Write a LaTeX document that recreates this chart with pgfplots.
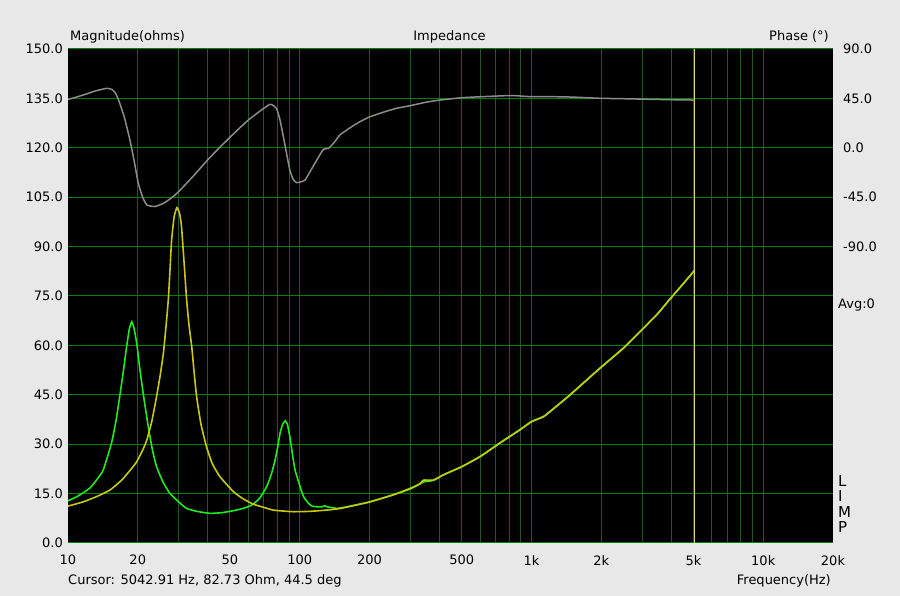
\documentclass[border=0pt]{standalone}
\usepackage{pgfplots}
\pgfplotsset{compat=1.18}
\usepackage{fontspec}
\setmainfont{DejaVu Sans}
\definecolor{bgcol}{RGB}{232,232,232}
\definecolor{hgrid}{RGB}{0,128,0}
\definecolor{vgrid}{RGB}{38,84,38}
\definecolor{ycurve}{RGB}{200,200,20}
\definecolor{gcurve}{RGB}{30,235,30}
\definecolor{phcurve}{RGB}{140,140,140}
\definecolor{cursorcol}{RGB}{215,215,120}
\newcommand{\lab}{\fontsize{13}{15}\selectfont}
\begin{document}
\begin{tikzpicture}
\useasboundingbox (0pt,0pt) rectangle (900pt,596pt);
\fill[bgcol] (0pt,0pt) rectangle (900pt,596pt);
\begin{axis}[
  at={(68pt,53pt)}, anchor=south west,
  width=765pt, height=494pt, scale only axis,
  xmode=log, xmin=10, xmax=20000, ymin=0, ymax=150,
  axis background/.style={fill=black},
  axis line style={draw=none},
  major tick length=0pt, minor tick length=0pt,
  tick style={draw=none},
  xtick={10,20,50,100,200,500,1000,2000,5000,10000,20000},
  xticklabels={10,20,50,100,200,500,1k,2k,5k,10k,20k},
  minor xtick={20,30,40,50,60,70,80,90,100,200,300,400,500,600,700,800,900,1000,2000,3000,4000,5000,6000,7000,8000,9000,10000},
  xmajorgrids=false, xminorgrids=true,
  minor x grid style={vgrid, line width=1pt},
  ytick={0,15,30,45,60,75,90,105,120,135,150},
  yticklabels={0.0,15.0,30.0,45.0,60.0,75.0,90.0,105.0,120.0,135.0,150.0},
  ymajorgrids=true,
  major y grid style={hgrid, line width=1pt},
  every tick label/.append style={font=\lab},
  xticklabel style={inner sep=0pt, yshift=-12pt},
  yticklabel style={inner sep=0pt, xshift=-5pt},
  clip=true,
]
\addplot[gcurve, line width=1.6pt, smooth, tension=0.3] coordinates {
(10,12.8) (11,14.2) (12.4,16.6) (13.4,19.5) (14.2,22.2) (15.4,30.3) (16.1,37) (16.8,45.5) (17.4,53) (17.9,59.6) (18.4,65) (18.85,67.2) (19.3,65) (19.8,60.6) (20.4,53) (21.1,45.5) (22.2,35.3) (23.1,28.5) (24.1,23.2) (25.7,18.5) (27.5,15.1) (30,12.5) (32.5,10.5) (36,9.6) (41,9.0) (46,9.2) (51.7,9.8) (57,10.5) (62,11.5) (67,13.5) (72,17.1) (75.5,21) (78.3,25.2) (80.5,29.5) (82.2,33.3) (84.3,36) (86.6,37.1) (88.5,36) (90.6,32.3) (93,27) (95.4,22.2) (100.3,17.1) (104,14) (108.9,12.1) (113,11.2) (118.5,11.0) (125,11.0) (128,11.3) (131,11.0) (144.7,10.5) (150,10.6) (182,11.8) (201,12.5) (250,14.5) (300,16.4) (342,18.5) (377,19.0) (420,20.8) (501,23.2) (600,26.3) (730,30.4) (890,34.4) (1000,36.9) (1125,38.4) (1180,39.5) (1465,45.0) (1972,53.1) (2490,59.2) (2935,64.2) (3500,69.6) (3940,73.9) (4500,78.6) (5042.91,82.7)
};
\addplot[ycurve, line width=1.6pt, smooth, tension=0.3] coordinates {
(10,11.2) (11.64,12.5) (13.3,14.1) (15.18,16.1) (17.05,19.1) (18.85,22.7) (19.8,24.7) (21,28.2) (21.9,31.3) (23,37) (24.1,44.4) (25,51) (25.8,57.6) (26.5,66) (27.1,74) (27.5,82) (28.0,92) (28.7,99) (29.5,101.8) (30.3,100) (30.9,96) (32.0,80.8) (32.5,73.8) (33.3,66) (34.2,59.6) (35.0,52) (35.9,44.4) (37.5,36) (39.6,29.2) (42,24) (45.3,20.1) (51.7,15.6) (57,13.4) (63,11.8) (70,10.8) (76.8,10.0) (85,9.7) (93.8,9.5) (110,9.6) (130.8,10.0) (150,10.5) (182,11.8) (201,12.5) (250,14.5) (300,16.6) (330,18.0) (342,19.1) (377,19.1) (420,20.8) (501,23.2) (600,26.2) (730,30.3) (890,34.3) (1000,36.8) (1125,38.3) (1180,39.4) (1465,44.9) (1972,53.0) (2490,59.1) (2935,64.1) (3500,69.6) (3940,73.9) (4500,78.6) (5042.91,82.7)
};
\addplot[cursorcol, line width=1.5pt] coordinates {(5042.91,0) (5042.91,150)};
\end{axis}
\begin{axis}[
  at={(68pt,53pt)}, anchor=south west,
  width=765pt, height=494pt, scale only axis,
  xmode=log, xmin=10, xmax=20000, ymin=-360, ymax=90,
  axis line style={draw=none},
  major tick length=0pt, minor tick length=0pt,
  tick style={draw=none},
  xtick=\empty,
  yticklabel pos=right,
  ytick={-90,-45,0,45,90},
  yticklabels={-90.0,-45.0,0.0,45.0,90.0},
  every tick label/.append style={font=\lab},
  yticklabel style={inner sep=0pt, xshift=10pt, anchor=west},
]
\addplot[phcurve, line width=1.5pt, smooth, tension=0.3] coordinates {
(10,44) (11,46.5) (12,49) (13,51.5) (14.7,54.2) (15.5,53) (16,50) (16.5,44) (17.5,28) (18.5,7.1) (19.3,-12) (20.1,-32.3) (21,-45) (21.9,-52.1) (23.7,-53.5) (25.8,-50.6) (28,-45.5) (30,-40) (35,-25) (40,-11.1) (45,0) (50,9.6) (55,18) (60,25.3) (65,31) (70,36) (74.4,39.6) (77,38.5) (79.3,36) (80.8,31) (82.2,25.3) (85,10) (87.7,-5) (90.6,-20.2) (93.5,-28.5) (96.9,-31.8) (101,-31) (105.5,-29.3) (112,-20) (118.5,-11.1) (126.5,-1.4) (133,-0.5) (141,5) (149,11.7) (165,18.3) (182,23.8) (201,28.3) (230,32.5) (262,36) (300,38.4) (350,41.5) (403,43.5) (501,45.6) (600,46.5) (783,47.5) (850,47.5) (987,46.6) (1202,46.6) (1500,46.2) (1972,45.1) (2500,44.7) (3235,44.2) (4000,43.8) (5042.91,43.5)
};
\end{axis}
\node[anchor=base west, inner sep=0pt, font=\lab] at (70pt,555pt) {Magnitude(ohms)};
\node[anchor=base, inner sep=0pt, font=\lab] at (449.5pt,555pt) {Impedance};
\node[anchor=base east, inner sep=0pt, font=\lab] at (829pt,555pt) {Phase (°)};
\node[anchor=base west, inner sep=0pt, font=\lab] at (68pt,11.5pt) {Cursor: 5042.91 Hz, 82.73 Ohm, 44.5 deg};
\node[anchor=base east, inner sep=0pt, font=\lab] at (831pt,11.5pt) {Frequency(Hz)};
\node[anchor=base west, inner sep=0pt, font=\lab] at (838pt,287pt) {Avg:0};
\node[anchor=base west, inner sep=0pt, font=\fontsize{15}{15}\selectfont] at (838pt,109.5pt) {L};
\node[anchor=base west, inner sep=0pt, font=\fontsize{15}{15}\selectfont] at (838pt,94pt) {I};
\node[anchor=base west, inner sep=0pt, font=\fontsize{15}{15}\selectfont] at (838pt,78.5pt) {M};
\node[anchor=base west, inner sep=0pt, font=\fontsize{15}{15}\selectfont] at (838pt,63pt) {P};
\end{tikzpicture}
\end{document}
